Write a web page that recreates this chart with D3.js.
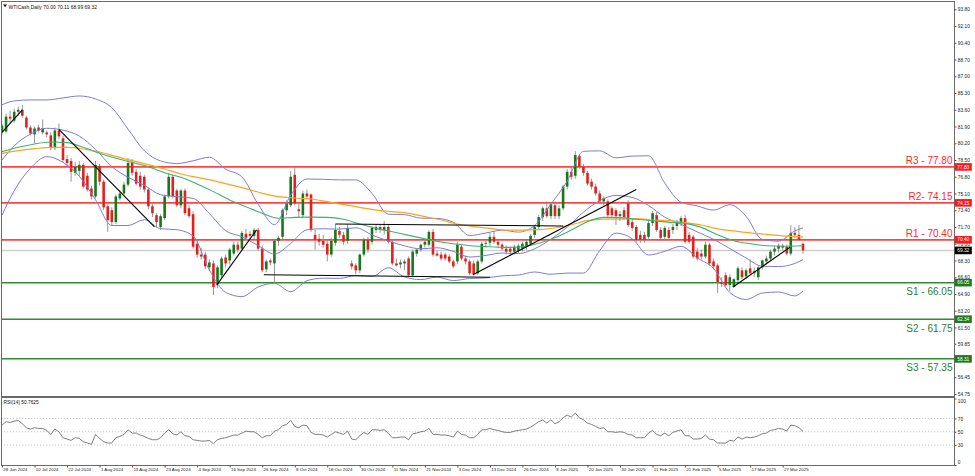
<!DOCTYPE html>
<html><head><meta charset="utf-8">
<script src="https://cdn.jsdelivr.net/npm/d3@7"></script>
<style>
html,body{margin:0;padding:0;background:#fff;}
svg{display:block;font-family:"Liberation Sans",Arial,sans-serif;}
</style></head><body>
<svg id="c" width="975" height="476"></svg>
<script>
// ---------------- DATA ----------------
const chartTitle = "WTICash,Daily  70.00 70.11 68.99 69.32";
const rsiTitle = "RSI(14) 50.7625";

const xTickBars = [0,8,16,24,32,40,48,56,64,72,80,88,96,104,112,120,128,136,144,152,160,168,176,184,192];
const xTickLabels = ["28 Jun 2024","10 Jul 2024","22 Jul 2024","1 Aug 2024","13 Aug 2024","23 Aug 2024","4 Sep 2024","16 Sep 2024","26 Sep 2024","8 Oct 2024","18 Oct 2024","30 Oct 2024","11 Nov 2024","21 Nov 2024","3 Dec 2024","13 Dec 2024","26 Dec 2024","8 Jan 2025","20 Jan 2025","30 Jan 2025","11 Feb 2025","21 Feb 2025","5 Mar 2025","17 Mar 2025","27 Mar 2025"];

// (58.15 sits under the S3 price tag in the reference and is not visible)
const priceTickLabels = ["93.80","92.10","90.40","88.70","87.00","85.30","83.60","81.90","80.20","78.50","76.80","75.10","73.40","71.70","70.00","68.30","66.60","64.90","63.20","61.50","59.85","56.45","54.75"];
const rsiTickValues = [100,70,50,30,0];
const rsiLevels = [70,50,30];

const opens = [
81.3,81.4,82.9,82.5,83.4,83.6,82.8,81.8,81.1,81.8,
81.3,81.3,81.0,79.7,81.5,80.7,78.6,78.4,77.2,77.4,
78.0,76.9,75.6,74.8,77.9,76.3,73.8,73.4,72.2,74.6,
75.1,76.0,78.2,77.3,76.9,76.8,75.5,73.8,72.9,71.7,
72.6,74.8,76.8,75.4,73.9,75.4,73.6,73.0,70.0,68.9,
68.9,67.6,68.0,65.9,66.8,68.6,68.3,69.0,69.9,69.5,
71.0,71.0,70.8,71.4,69.5,67.4,68.3,68.0,70.3,70.7,
73.4,73.9,77.0,73.5,72.9,75.1,75.0,70.9,70.5,70.3,
70.0,68.9,70.1,71.3,70.9,70.3,68.0,67.8,67.3,68.9,
70.4,70.2,71.4,71.7,71.4,71.7,70.2,68.0,67.9,68.0,
68.5,66.8,69.0,69.4,69.9,69.9,71.2,69.0,68.9,68.9,
68.7,68.2,68.2,69.7,68.5,68.2,68.0,67.0,68.2,70.0,
70.1,70.7,70.2,69.9,69.5,69.5,69.2,69.3,69.5,69.7,
70.0,70.9,71.7,72.7,73.6,72.8,73.9,72.8,73.6,75.8,
77.3,76.9,78.9,77.8,77.2,76.3,75.8,75.1,74.3,74.3,
73.6,73.4,72.8,73.4,74.1,72.2,71.7,70.9,70.9,70.7,
72.1,72.9,71.4,70.7,71.4,71.4,71.8,72.1,72.6,70.9,
70.7,69.2,69.0,68.7,69.9,68.2,67.8,66.1,66.8,65.8,
65.6,66.3,67.3,66.7,67.5,67.0,66.6,67.6,68.2,68.5,
69.2,69.5,69.8,69.7,69.0,71.1,70.9,70.00];
const highs = [
82.2,83.2,83.5,83.7,83.9,84.1,83.0,82.0,81.9,82.1,
82.6,81.5,81.3,81.8,82.2,81.0,79.0,78.7,78.3,78.4,
78.2,77.2,75.9,78.4,78.1,76.5,74.0,73.7,75.0,75.4,
76.3,78.7,78.6,77.6,77.3,77.0,75.7,74.0,73.1,73.0,
75.0,77.2,77.0,75.6,75.6,75.6,73.9,73.3,70.4,69.6,
69.2,68.4,68.3,67.8,68.7,68.9,69.6,70.2,70.2,71.3,
71.5,71.3,71.6,71.6,69.8,68.4,68.5,70.5,70.8,73.6,
74.4,77.4,77.8,74.2,75.4,75.5,75.1,71.4,71.0,70.9,
70.3,70.6,72.0,71.7,71.2,72.0,68.3,68.0,69.0,70.6,
70.7,71.8,72.0,72.0,72.3,71.9,70.4,68.5,68.4,68.4,
68.7,69.4,69.5,70.0,70.4,71.4,71.5,69.3,69.2,69.1,
68.9,68.4,70.2,70.0,68.8,68.4,68.3,68.4,70.2,70.3,
71.1,71.3,70.5,70.1,69.8,69.7,69.9,70.0,70.2,70.4,
71.0,71.8,72.9,73.8,74.3,74.2,74.3,73.9,76.0,77.6,
77.9,79.4,79.1,78.1,77.4,76.6,76.1,75.4,74.8,74.5,
73.8,73.6,73.3,73.7,74.4,72.6,71.9,71.3,71.2,72.3,
73.3,73.2,71.7,71.8,71.7,72.0,72.4,72.8,72.9,71.2,
70.9,69.6,69.4,70.2,70.1,68.5,68.0,66.6,67.1,66.9,
66.5,67.7,67.6,67.5,68.4,67.6,67.8,68.4,68.8,69.4,
69.8,70.0,70.0,69.9,71.9,71.7,71.9,70.11];
const lows = [
81.0,81.2,82.2,82.3,83.0,82.8,81.6,81.0,80.2,81.3,
81.1,80.8,79.5,79.5,80.6,78.3,77.8,76.3,76.9,76.9,
75.6,75.3,74.5,74.6,75.9,73.4,71.2,71.9,72.0,74.4,
74.9,75.8,76.9,75.9,75.5,75.2,73.5,72.7,71.6,71.4,
72.4,74.6,74.6,73.7,73.6,72.9,72.6,69.5,68.6,68.4,
67.4,67.2,64.8,65.5,66.5,67.6,67.9,68.8,69.1,69.3,
70.4,70.5,70.4,69.3,67.1,67.1,67.8,66.0,69.8,70.4,
72.9,73.7,73.9,72.7,72.6,74.5,71.2,69.4,69.8,69.6,
68.2,68.7,69.8,70.6,69.9,70.0,67.4,66.9,67.0,68.7,
69.1,69.9,71.1,71.1,70.9,70.0,67.8,67.7,67.5,67.3,
66.6,66.6,68.7,69.2,69.6,69.7,68.7,68.7,68.3,68.3,
68.0,67.5,67.9,68.3,67.9,66.8,66.8,66.8,68.0,69.6,
69.8,70.0,69.6,69.3,68.9,68.8,68.9,69.0,69.2,69.4,
69.8,70.6,71.4,72.3,72.6,72.5,72.5,72.5,73.4,75.5,
76.5,76.6,77.6,76.9,75.9,75.5,74.9,74.1,73.9,72.6,
72.7,71.9,72.3,72.5,71.7,71.3,70.2,70.1,70.1,70.5,
71.8,71.2,70.3,70.3,70.4,71.0,71.4,71.8,70.0,70.0,
68.5,68.3,68.4,68.5,67.8,67.4,65.0,65.6,65.6,65.2,
65.6,66.0,66.4,66.4,66.9,66.6,66.3,67.4,67.9,68.3,
68.8,69.1,69.3,68.8,68.8,70.6,70.3,68.99];
const closes = [
82.0,82.9,82.7,83.4,83.6,83.0,81.8,81.2,81.7,81.5,
81.7,81.1,79.7,81.5,80.9,78.5,78.2,77.3,77.8,78.0,
75.8,75.5,74.8,78.0,76.3,73.7,72.4,72.2,74.8,75.1,
76.0,78.2,77.2,76.1,75.8,75.5,73.8,73.1,72.2,72.8,
74.8,76.8,74.8,73.9,75.4,73.1,72.8,69.7,68.9,68.7,
67.7,68.1,65.6,67.6,68.5,68.0,69.4,69.9,69.4,71.1,
70.6,70.8,71.4,69.5,67.3,68.2,68.1,70.3,70.6,73.4,
74.1,76.8,74.1,73.3,75.1,74.8,71.4,70.4,70.2,69.9,
68.9,70.3,71.4,70.9,70.2,71.6,67.7,67.3,68.9,70.4,
69.4,71.6,71.7,71.4,71.7,70.2,68.0,67.8,68.1,68.2,
66.8,69.2,69.4,69.9,70.2,71.2,68.9,68.8,68.5,68.5,
68.2,67.7,69.9,68.5,68.2,67.0,66.9,68.2,70.0,70.1,
70.7,70.2,69.9,69.5,69.2,69.2,69.7,69.8,70.0,70.2,
70.8,71.7,72.7,73.6,72.8,74.0,72.8,73.6,75.8,77.3,
76.8,79.0,77.8,77.2,76.1,75.8,75.1,74.3,74.6,72.9,
72.9,72.8,73.0,72.7,71.9,71.6,70.4,70.4,70.4,72.1,
73.1,71.4,70.6,71.6,70.6,71.7,72.2,72.6,70.2,70.2,
68.7,68.5,68.7,69.9,68.0,67.7,66.1,65.9,65.8,66.6,
66.4,67.5,66.6,67.3,67.0,67.2,67.6,68.3,68.5,69.2,
69.5,69.8,69.6,69.0,71.1,70.9,70.4,69.32];

// Bollinger Bands (20,2) at sample bars
const bbBars = [0,3,7,11,15,19,23,27,31,35,39,43,47,51,55,59,63,67,71,75,79,83,87,91,95,99,103,107,111,115,119,123,127,131,135,139,143,147,151,155,159,163,167,171,175,179,183,187,191,195,197];
const bbUpper = [84.1,84.5,84.6,84.6,84.8,85.0,84.7,83.81,81.63,79.44,78.41,78.14,78.42,78.78,77.58,76.79,74.01,71.94,74.93,76.57,76.54,76.48,76.48,75.11,73.0,72.95,72.6,72.57,72.18,70.83,71.09,71.38,71.18,71.85,74.02,76.34,79.38,79.43,78.72,78.9,78.93,76.15,74.22,73.84,73.41,73.97,72.78,70.43,70.26,71.3,71.6];
const bbMiddle = [78.5,79.94,81.13,81.72,81.53,80.93,79.58,77.83,76.74,75.94,74.97,74.78,74.6,73.06,71.32,70.71,69.81,68.96,70.03,71.41,71.52,71.48,71.62,70.89,70.28,69.79,69.48,69.59,69.22,68.65,68.81,69.06,69.0,69.49,70.46,71.68,73.2,74.37,74.9,74.7,73.89,72.69,71.98,71.2,70.45,69.51,68.56,67.71,67.68,68.0,68.39];
const bbLower = [72.9,75.38,77.66,78.84,78.26,76.86,74.46,71.85,71.85,72.44,71.53,71.42,70.78,67.34,65.06,64.63,65.61,65.98,65.13,66.25,66.5,66.48,66.76,66.67,67.56,66.63,66.36,66.61,66.26,66.47,66.53,66.74,66.82,67.13,66.9,67.02,67.02,69.31,71.08,70.5,68.85,69.23,69.74,68.56,67.49,65.05,64.34,64.99,65.1,64.7,65.2];

// Moving averages at sample bars
const maBars = [0,4,8,12,16,20,24,28,32,36,40,44,48,52,56,60,64,68,72,76,80,84,88,92,96,100,104,108,112,116,120,124,128,132,136,140,144,148,152,156,160,164,168,172,176,180,184,188,192,197];
const maGreen = [79.35,79.79,80.13,80.33,80.26,79.79,79.18,78.67,78.26,77.82,77.2,76.74,76.06,75.29,74.44,73.76,73.09,72.58,72.68,72.7,72.68,72.48,72.0,71.56,71.22,70.85,70.51,70.17,69.94,69.77,69.7,69.63,69.7,70.04,70.61,71.39,72.24,72.68,72.65,72.48,72.34,72.17,72.07,71.66,70.9,70.3,70.0,69.8,69.75,69.8];
const maOrange = [79.18,79.45,79.65,79.79,79.79,79.62,79.31,78.87,78.43,78.03,77.59,77.08,76.74,76.4,76.0,75.59,75.12,74.78,74.64,74.54,74.27,73.97,73.7,73.42,73.25,73.09,72.75,72.41,72.0,71.73,71.56,71.39,71.39,71.43,71.6,71.93,72.34,72.5,72.5,72.55,72.41,72.34,72.14,71.9,71.5,71.3,71.1,70.95,70.8,70.7];

// RSI(14), one value per bar
const rsi = [
60,65,64,66,67,62,56,54,56,55,
55,52,46,54,50,41,39,37,41,40,
35,33,31,46,40,35,33,33,41,43,
46,53,48,48,45,43,40,38,38,41,
48,53,47,45,50,44,43,38,37,36,
36,37,32,38,40,41,43,45,45,48,
51,50,50,46,41,44,44,51,53,59,
61,67,58,56,60,59,49,46,46,45,
42,46,50,48,46,51,39,38,44,49,
46,53,53,52,53,48,41,41,42,42,
38,47,48,50,51,55,46,46,45,45,
44,42,51,46,45,41,41,46,53,53,
55,53,52,50,49,49,51,52,53,54,
57,61,65,68,63,68,62,65,71,75,
72,78,71,68,63,61,58,55,56,50,
50,49,50,49,46,45,41,41,41,48,
52,46,44,48,44,49,51,53,44,44,
39,39,40,45,39,38,33,33,33,37,
36,42,39,42,41,42,44,47,48,52,
53,55,54,51,60,59,56,50.76];

// Support / resistance levels
const levelTexts  = ["R3 - 77.80","R2- 74.15","R1 - 70.40","S1 - 66.05","S2 - 61.75","S3 - 57.35"];
const levelValues = [77.80,74.15,70.40,66.05,62.34,58.31];
const levelTags   = ["77.80","74.15","70.40","66.05","62.34","58.31"];
const levelKinds  = ["R","R","R","S","S","S"];
const lastPrice = 69.32;
const lastPriceTag = "69.32";

// Hand-drawn trend lines: [bar1, price1, bar2, price2]
const trendLines = [
  [0, 81.3, 5, 83.6],
  [14, 81.6, 37.5, 71.7],
  [52.8, 65.8, 62.6, 71.4],
  [64.4, 66.85, 120, 66.6],
  [82, 72.0, 138, 71.8],
  [115.8, 66.85, 156, 75.5],
  [179.8, 65.6, 193.8, 69.65]
];

// ---------------- DRAW ----------------
const svg = d3.select("#c");
const plotL = 1, plotR = 954, mainT = 1, mainB = 396, rsiT = 398, rsiB = 465;
const x = d3.scaleLinear().domain([0, 197]).range([2, 803]);
const y = d3.scaleLinear().domain([54.75, 93.80]).range([393.94, 9.3]);
const yr = d3.scaleLinear().domain([0, 100]).range([465, 398.5]);

const defs = svg.append("defs");
defs.append("clipPath").attr("id","mainClip").append("rect")
  .attr("x",plotL).attr("y",mainT).attr("width",plotR-plotL).attr("height",mainB-mainT);
defs.append("clipPath").attr("id","rsiClip").append("rect")
  .attr("x",plotL).attr("y",rsiT).attr("width",plotR-plotL).attr("height",rsiB-rsiT);

svg.append("rect").attr("width",975).attr("height",476).attr("fill","#fff");

const main = svg.append("g").attr("clip-path","url(#mainClip)");

// current price line
main.append("line").attr("x1",plotL).attr("x2",plotR)
  .attr("y1",y(lastPrice)).attr("y2",y(lastPrice))
  .attr("stroke","#cfcfcf").attr("stroke-width",1.6);

// level lines
const redC = "#ff3030", greenC = "#2e8b2e";
main.selectAll("line.level").data(levelValues).join("line").attr("class","level")
  .attr("x1",plotL).attr("x2",plotR)
  .attr("y1",d=>y(d)).attr("y2",d=>y(d))
  .attr("stroke",(d,i)=>levelKinds[i]==="R"?redC:greenC)
  .attr("stroke-width",(d,i)=>levelKinds[i]==="R"?1.8:1.5)
  .attr("stroke-opacity",(d,i)=>levelKinds[i]==="R"?0.9:1);

// candles
const idx = d3.range(opens.length);
main.selectAll("line.wick").data(idx).join("line").attr("class","wick")
  .attr("x1",i=>x(i)).attr("x2",i=>x(i))
  .attr("y1",i=>y(highs[i])).attr("y2",i=>y(lows[i]))
  .attr("stroke","#8a8a8a").attr("stroke-width",0.9);
main.selectAll("rect.body").data(idx).join("rect").attr("class","body")
  .attr("x",i=>x(i)-1.3).attr("width",2.6)
  .attr("y",i=>y(Math.max(opens[i],closes[i])))
  .attr("height",i=>Math.max(0.8,Math.abs(y(opens[i])-y(closes[i]))))
  .attr("fill",i=>closes[i]>=opens[i]?"#16781a":"#e3211c");

// indicators
const bbLine = arr => d3.line().x((d,i)=>x(bbBars[i])).y(d=>y(d)).curve(d3.curveMonotoneX)(arr);
const maLine = arr => d3.line().x((d,i)=>x(maBars[i])).y(d=>y(d)).curve(d3.curveMonotoneX)(arr);
[bbUpper,bbMiddle,bbLower].forEach(a=>{
  main.append("path").attr("d",bbLine(a)).attr("fill","none")
    .attr("stroke","#7d7dd4").attr("stroke-width",1);
});
main.append("path").attr("d",maLine(maOrange)).attr("fill","none")
  .attr("stroke","#ffa21f").attr("stroke-width",1.2);
main.append("path").attr("d",maLine(maGreen)).attr("fill","none")
  .attr("stroke","#3cb371").attr("stroke-width",1.1);

// trend lines
main.selectAll("line.trend").data(trendLines).join("line").attr("class","trend")
  .attr("x1",d=>x(d[0])).attr("y1",d=>y(d[1]))
  .attr("x2",d=>x(d[2])).attr("y2",d=>y(d[3]))
  .attr("stroke","#000").attr("stroke-width",1.1);

// level texts
main.selectAll("text.levelTxt").data(levelTexts).join("text").attr("class","levelTxt")
  .attr("x",plotR-1.5)
  .attr("y",(d,i)=>levelKinds[i]==="R"?y(levelValues[i])-2.5:y(levelValues[i])+12.5)
  .attr("text-anchor","end")
  .attr("font-size","10px")
  .attr("fill",(d,i)=>levelKinds[i]==="R"?"#ff2a2a":"#2f7d2f")
  .text(d=>d);

// RSI panel
const rsiG = svg.append("g").attr("clip-path","url(#rsiClip)");
rsiG.selectAll("line.rl").data(rsiLevels).join("line").attr("class","rl")
  .attr("x1",plotL).attr("x2",plotR).attr("y1",d=>yr(d)).attr("y2",d=>yr(d))
  .attr("stroke","#bcbcbc").attr("stroke-width",0.8).attr("stroke-dasharray","1.2,1.8");
rsiG.append("path")
  .attr("d",d3.line().x((d,i)=>x(i)).y(d=>yr(d))(rsi))
  .attr("fill","none").attr("stroke","#6f6f6f").attr("stroke-width",0.9);

// frames
const frame = svg.append("g").attr("stroke","#6a6a6a").attr("fill","none");
frame.append("line").attr("x1",plotL).attr("x2",plotR).attr("y1",1.5).attr("y2",1.5);
frame.append("line").attr("x1",1.5).attr("x2",1.5).attr("y1",1).attr("y2",rsiB);
frame.append("line").attr("x1",plotR+0.5).attr("x2",plotR+0.5).attr("y1",1).attr("y2",rsiB+0.5);
frame.append("line").attr("x1",plotL).attr("x2",plotR).attr("y1",397).attr("y2",397).attr("stroke-width",2);
frame.append("line").attr("x1",plotL).attr("x2",plotR+1).attr("y1",rsiB+0.5).attr("y2",rsiB+0.5);

// price axis
const priceVals = priceTickLabels.map(Number);
const ya = svg.append("g").attr("transform",`translate(${plotR+0.5},0)`)
  .call(d3.axisRight(y).tickValues(priceVals).tickFormat((d,i)=>priceTickLabels[i]).tickSize(2));
ya.select(".domain").remove();
ya.selectAll("line").attr("stroke","#555");
ya.selectAll("text").attr("x",3.3).attr("dy","0.35em").style("font-size","4.8px").attr("fill","#222")
  .style("font-family","'Liberation Sans',Arial,sans-serif");

// RSI axis
const ra = svg.append("g").attr("transform",`translate(${plotR+0.5},0)`)
  .call(d3.axisRight(yr).tickValues(rsiTickValues).tickFormat(d3.format("d")).tickSize(2));
ra.select(".domain").remove();
ra.selectAll("line").attr("stroke","#555");
ra.selectAll("text").attr("x",3.3).attr("dy",d=>d===100?"0.9em":(d===0?"-0.25em":"0.35em"))
  .style("font-size","4.8px").attr("fill","#222")
  .style("font-family","'Liberation Sans',Arial,sans-serif");

// time axis
const xa = svg.append("g").attr("transform",`translate(0,${rsiB})`)
  .call(d3.axisBottom(x).tickValues(xTickBars).tickFormat((d,i)=>xTickLabels[i]).tickSize(2.5));
xa.select(".domain").remove();
xa.selectAll("line").attr("stroke","#555");
xa.selectAll("text").attr("text-anchor","start").attr("x",0.8).attr("y",3.3).attr("dy","0.71em")
  .style("font-size","4.4px").attr("fill","#222")
  .style("font-family","'Liberation Sans',Arial,sans-serif");

// price tags on axis
const tagG = svg.append("g");
tagG.selectAll("rect.tag").data(levelValues).join("rect").attr("class","tag")
  .attr("x",plotR+0.8).attr("width",17).attr("y",d=>y(d)-3.8).attr("height",7.6)
  .attr("fill",(d,i)=>levelKinds[i]==="R"?"#ff1a1a":"#1f7a1f");
tagG.selectAll("text.tag").data(levelTags).join("text").attr("class","tag")
  .attr("x",plotR+9.3).attr("y",(d,i)=>y(levelValues[i])+1.7)
  .attr("text-anchor","middle").attr("font-size","4.8px").attr("fill","#fff").text(d=>d);
tagG.append("rect").attr("x",plotR+0.8).attr("width",17).attr("y",y(lastPrice)-3.8).attr("height",7.6).attr("fill","#000");
tagG.append("text").attr("x",plotR+9.3).attr("y",y(lastPrice)+1.7).attr("text-anchor","middle")
  .attr("font-size","4.8px").attr("fill","#fff").text(lastPriceTag);

// titles
svg.append("path").attr("d","M3.2,4.6 L7,4.6 L5.1,7.2 Z").attr("fill","#000");
svg.append("text").attr("x",8.5).attr("y",8.6).attr("font-size","5px").attr("fill","#111").text(chartTitle);
svg.append("text").attr("x",3.5).attr("y",404.2).attr("font-size","4.8px").attr("fill","#111").text(rsiTitle);
</script>
</body></html>
